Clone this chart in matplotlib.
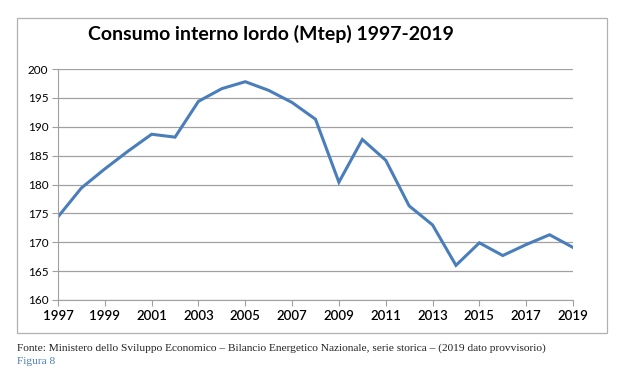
import matplotlib.pyplot as plt
from matplotlib.patches import Rectangle

anni = list(range(1997, 2020))
consumo = [174.4, 179.4, 182.7, 185.8, 188.7, 188.2, 194.4, 196.6, 197.8, 196.3,
           194.2, 191.3, 180.4, 187.8, 184.2, 176.3, 173.0, 166.0, 169.9, 167.7,
           169.6, 171.3, 169.1]
xticks = list(range(1997, 2020, 2))
yticks = list(range(160, 201, 5))

fig = plt.figure(figsize=(6.21, 3.76), dpi=100)
W, H = 621, 376

# cornice grigia del grafico
fig.patches.append(Rectangle((17 / W, 1 - 333 / H), 590 / W, 315 / H,
                             transform=fig.transFigure, fill=False,
                             edgecolor='#b0b0b0', linewidth=0.9))

ax = fig.add_axes([58 / W, 1 - 300 / H, 515 / W, 231 / H])
ax.plot(anni, consumo, color='#4a7ebb', linewidth=2.2, solid_joinstyle='miter')
ax.set_xlim(1997, 2019)
ax.set_ylim(160, 200)
ax.set_xticks(xticks)
ax.set_yticks(yticks)
ax.grid(axis='y', color='#a0a0a0', linewidth=0.9)
ax.set_axisbelow(True)
for s in ['top', 'right']:
    ax.spines[s].set_visible(False)
for s in ['left', 'bottom']:
    ax.spines[s].set_color('#a0a0a0')
ax.tick_params(axis='both', color='#a0a0a0', length=4, direction='out')
ax.tick_params(axis='y', labelsize=8.5, pad=3)
ax.tick_params(axis='x', labelsize=9.5, pad=3)
for lab in ax.get_xticklabels():
    lab.set_fontweight('semibold')
    lab.set_family('Lato')
for lab in ax.get_yticklabels():
    lab.set_family('Lato')

fig.text(88 / W, 1 - 34 / H, 'Consumo interno lordo (Mtep) 1997-2019',
         fontsize=14, fontweight='bold', family='Lato', va='center', ha='left')

fig.text(17 / W, 1 - 348 / H,
         'Fonte: Ministero dello Sviluppo Economico \u2013 Bilancio Energetico Nazionale, serie storica \u2013 (2019 dato provvisorio)',
         fontsize=8.2, family='Liberation Serif', va='center', ha='left', color='#222222')
fig.text(17 / W, 1 - 362 / H, 'Figura 8', fontsize=8.2, family='Liberation Serif',
         va='center', ha='left', color='#4a7ebb')

fig.savefig('out.png', dpi=100)
